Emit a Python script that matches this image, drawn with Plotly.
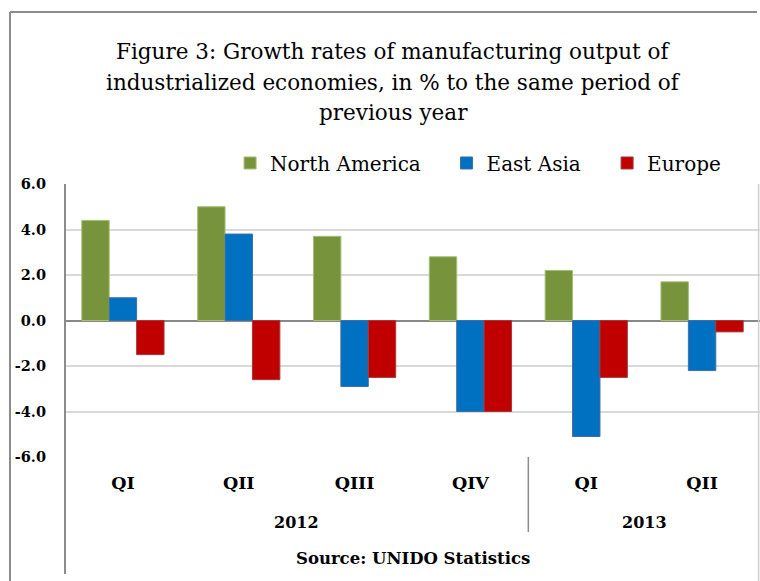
import plotly.graph_objects as go

# Quarterly growth of manufacturing output, % to same period of previous year
quarters = ["QI", "QII", "QIII", "QIV", "QI", "QII"]
years = ["2012", "2012", "2012", "2012", "2013", "2013"]
north_america = [4.4, 5.0, 3.7, 2.8, 2.2, 1.7]
east_asia = [1.0, 3.8, -2.9, -4.0, -5.1, -2.2]
europe = [-1.5, -2.6, -2.5, -4.0, -2.5, -0.5]

series_names = ["North America", "East Asia", "Europe"]
series_values = [north_america, east_asia, europe]
fill_colors = ["#77933C", "#0070C0", "#C00000"]
edge_colors = ["#A6BF72", "#3F6FA8", "#A33A3A"]

title_lines = [
    "Figure 3: Growth rates of manufacturing output of",
    "industrialized economies, in % to the same period of",
    "previous year",
]
source_text = "Source: UNIDO Statistics"
y_ticks = [-6, -4, -2, 0, 2, 4, 6]

serif = "DejaVu Serif"
categories = [f"{y} {q}" for y, q in zip(years, quarters)]

fig = go.Figure()
legend_ids = ["legend", "legend2", "legend3"]
for name, vals, fc, ec, lg in zip(series_names, series_values, fill_colors, edge_colors, legend_ids):
    fig.add_trace(go.Bar(
        x=categories, y=vals, name=name,
        marker=dict(color=fc, line=dict(color=ec, width=1)),
        legend=lg,
    ))

# one legend box per series, spread along the top
legend_x = [0.2375, 0.549, 0.78]
legend_common = dict(orientation="h", yanchor="middle", y=1.077, xanchor="left",
                     bgcolor="rgba(0,0,0,0)", font=dict(family=serif, size=20, color="#000"),
                     itemwidth=30)
fig.update_layout(
    legend=dict(x=legend_x[0], **legend_common),
    legend2=dict(x=legend_x[1], **legend_common),
    legend3=dict(x=legend_x[2], **legend_common),
)

fig.update_layout(
    width=760, height=581,
    margin=dict(l=65, r=0, t=184, b=124),
    paper_bgcolor="white", plot_bgcolor="white",
    barmode="group", bargap=0.29, bargroupgap=0,
    showlegend=True,
    xaxis=dict(
        type="category", tickvals=categories, ticktext=quarters,
        tickfont=dict(family=serif, size=17.5, color="#000", weight="bold"),
        showgrid=False, showline=False, ticks="", ticklabelstandoff=13,
        fixedrange=True,
    ),
    yaxis=dict(
        range=[-6, 6], tickvals=y_ticks,
        ticktext=[f"{v:.1f}" for v in y_ticks],
        tickfont=dict(family=serif, size=14.5, color="#000", weight="bold"),
        showgrid=True, gridcolor="#D9D9D9", gridwidth=2,
        zeroline=True, zerolinecolor="#888888", zerolinewidth=2,
        showline=False, ticks="", ticklabelstandoff=18,
    ),
)

annotations = []
title_y_px = [51, 82, 112]
for line, ypx in zip(title_lines, title_y_px):
    annotations.append(dict(
        text=line, xref="paper", yref="paper", x=0.472, y=1 + (184 - ypx) / 273,
        xanchor="center", yanchor="middle", showarrow=False,
        font=dict(family=serif, size=21.5, color="#000"),
    ))
# year group labels under the quarter labels
for yr, xc in [("2012", 1.5), ("2013", 4.5)]:
    annotations.append(dict(
        text=yr, xref="x", yref="paper", x=xc, y=-(522 - 457) / 273,
        xanchor="center", yanchor="middle", showarrow=False,
        font=dict(family=serif, size=16, color="#000", weight="bold"),
    ))
annotations.append(dict(
    text=source_text, xref="paper", yref="paper", x=0.5, y=-(558 - 457) / 273,
    xanchor="center", yanchor="middle", showarrow=False,
    font=dict(family=serif, size=16.5, color="#000", weight="bold"),
))
fig.update_layout(annotations=annotations)

axis_gray = "#8C8C8C"
frame_top = 1 + (184 - 12) / 273
frame_left = (10 - 65) / 695
shapes = [
    # value axis line, continued down through the category rows
    dict(type="line", xref="paper", yref="paper", x0=0, x1=0, y0=1, y1=-(574 - 457) / 273,
         line=dict(color=axis_gray, width=2), layer="above"),
    # divider between the year groups
    dict(type="line", xref="x", yref="paper", x0=3.5, x1=3.5, y0=0, y1=-(532 - 457) / 273,
         line=dict(color=axis_gray, width=1.5), layer="above"),
    # right edge of the plot area and category rows
    dict(type="line", xref="paper", yref="paper", x0=0.998, x1=0.998, y0=1, y1=-(581 - 457) / 273,
         line=dict(color="#D0D0D0", width=1.5), layer="above"),
    # outer chart frame (top and left edges)
    dict(type="line", xref="paper", yref="paper", x0=frame_left, x1=(757 - 65) / 695,
         y0=frame_top, y1=frame_top, line=dict(color=axis_gray, width=2), layer="above"),
    dict(type="line", xref="paper", yref="paper", x0=frame_left, x1=frame_left,
         y0=frame_top, y1=-(590 - 457) / 273, line=dict(color=axis_gray, width=2), layer="above"),
]
fig.update_layout(shapes=shapes)

fig.write_html("out.html", config={"displayModeBar": False})
